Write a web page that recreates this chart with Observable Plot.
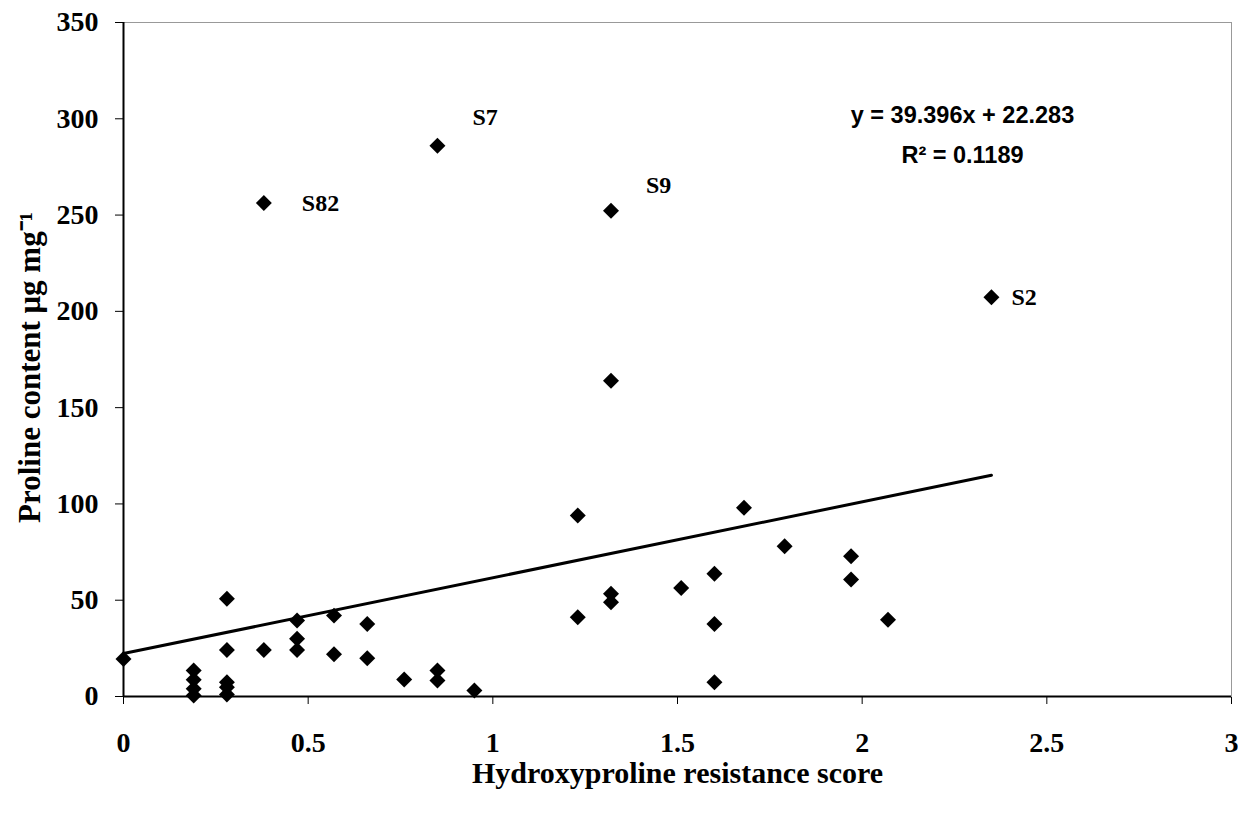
<!DOCTYPE html>
<html>
<head>
<meta charset="utf-8">
<script src="https://cdn.jsdelivr.net/npm/d3@7"></script>
<script src="https://cdn.jsdelivr.net/npm/@observablehq/plot@0.6"></script>
<style>
  body { margin: 0; background: #fff; }
  #chart svg { display: block; }
</style>
</head>
<body>
<div id="chart"></div>
<script>
// Hydroxyproline resistance score vs. proline content, one entry per line
const resistanceScore = [
  0,
  0.19, 0.19, 0.19, 0.19,
  0.28, 0.28, 0.28, 0.28, 0.28,
  0.38, 0.38,
  0.47, 0.47, 0.47,
  0.57, 0.57,
  0.66, 0.66,
  0.76,
  0.85, 0.85, 0.85,
  0.95,
  1.23, 1.23,
  1.32, 1.32, 1.32, 1.32,
  1.51,
  1.6, 1.6, 1.6,
  1.68,
  1.79,
  1.97, 1.97,
  2.07,
  2.35
];
const prolineContent = [
  19.5,
  13.5, 8.7, 4, 0.5,
  50.7, 24.2, 7.4, 4.8, 1,
  256.3, 24.2,
  39.5, 30, 24.2,
  42, 22,
  37.7, 19.9,
  8.8,
  286, 13.5, 8.3,
  3.1,
  94, 41.2,
  252.3, 164, 53.3, 49,
  56.4,
  63.7, 37.7, 7.4,
  98,
  78,
  72.8, 60.7,
  39.8,
  207.3
];
const sampleName = [
  "",
  "", "", "", "",
  "", "", "", "", "",
  "S82", "",
  "", "", "",
  "", "",
  "", "",
  "",
  "S7", "", "",
  "",
  "", "",
  "S9", "", "", "",
  "",
  "", "", "",
  "",
  "",
  "", "",
  "",
  "S2"
];
const xTicks = [0, 0.5, 1, 1.5, 2, 2.5, 3];
const yTicks = [0, 50, 100, 150, 200, 250, 300, 350];

// Linear trend line reported for the data
const trendSlope = 39.396;
const trendIntercept = 22.283;
const trendR2 = 0.1189;

const xTitle = "Hydroxyproline resistance score";
const yTitle = "Proline content \u03bcg mg\u207b\u00b9";

const points = resistanceScore.map((x, i) => ({x, y: prolineContent[i], name: sampleName[i]}));
const [xMin, xMax] = d3.extent(resistanceScore);
const trend = [xMin, xMax].map(x => ({x, y: trendSlope * x + trendIntercept}));

const serif = "'Liberation Serif', 'Times New Roman', serif";
const sans = "'Liberation Sans', Arial, sans-serif";

// label offsets for the named samples
const calloutOffset = {S82: [38, 0], S7: [35, -28], S9: [35, -25], S2: [20, 0]};
const callouts = Object.entries(calloutOffset).map(([name, [dx, dy]]) =>
  Plot.text(points.filter(d => d.name === name), {
    x: "x", y: "y", text: "name", dx, dy,
    textAnchor: "start", lineAnchor: "middle",
    fontSize: 24, fontWeight: "bold", fontFamily: serif, fill: "black"
  })
);

const chart = Plot.plot({
  width: 1238,
  height: 815,
  marginLeft: 123,
  marginRight: 7,
  marginTop: 22,
  marginBottom: 119,
  style: {
    fontFamily: serif,
    fontSize: "28px",
    fontWeight: "bold",
    color: "black",
    background: "white"
  },
  x: {domain: [0, 3], ticks: xTicks, tickFormat: d => String(d), tickSize: 8, tickPadding: 28, label: null},
  y: {domain: [0, 350], ticks: yTicks, tickFormat: d => String(d), tickSize: 8, tickPadding: 17, label: null},
  marks: [
    Plot.frame({stroke: "#999", strokeWidth: 1}),
    Plot.ruleX([0], {stroke: "black", strokeWidth: 2}),
    Plot.ruleY([0], {stroke: "black", strokeWidth: 2}),
    Plot.line(trend, {x: "x", y: "y", stroke: "black", strokeWidth: 3}),
    Plot.dot(points, {x: "x", y: "y", symbol: "diamond2", r: 7.2, fill: "black", stroke: "none"}),
    ...callouts,
    Plot.text([`y = ${trendSlope}x + ${trendIntercept}`], {
      text: d => d, frameAnchor: "top-right", dx: -269, dy: 93,
      textAnchor: "middle", lineAnchor: "middle",
      fontFamily: sans, fontSize: 23.5, fontWeight: "bold", fill: "black"
    }),
    Plot.text([`R\u00b2 = ${trendR2}`], {
      text: d => d, frameAnchor: "top-right", dx: -269, dy: 133,
      textAnchor: "middle", lineAnchor: "middle",
      fontFamily: sans, fontSize: 23.5, fontWeight: "bold", fill: "black"
    }),
    Plot.text([xTitle], {
      text: d => d, frameAnchor: "bottom", dy: 77,
      textAnchor: "middle", lineAnchor: "middle",
      fontSize: 30, fontWeight: "bold", fill: "black"
    }),
    Plot.text([yTitle], {
      text: d => d, frameAnchor: "left", dx: -93, dy: 8, rotate: -90,
      textAnchor: "middle", lineAnchor: "middle",
      fontSize: 31, fontWeight: "bold", fill: "black"
    })
  ]
});

document.getElementById("chart").append(chart);
</script>
</body>
</html>
